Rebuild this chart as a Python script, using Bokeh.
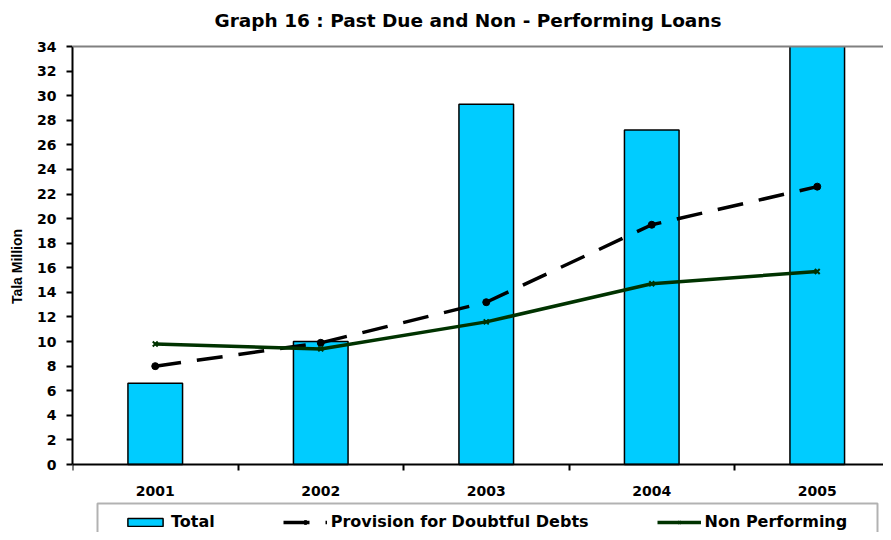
from bokeh.plotting import figure
from bokeh.models import (Range1d, FixedTicker, Span, Legend, LegendItem,
                          BoxAnnotation, ColumnDataSource, Label)
from bokeh.embed import file_html
from bokeh.resources import INLINE

# ---- data ----
years = ["2001", "2002", "2003", "2004", "2005"]
total = [6.6, 10.0, 29.3, 27.2, 35.5]
provision = [8.0, 9.9, 13.2, 19.5, 22.6]
non_performing = [9.8, 9.4, 11.6, 14.7, 15.7]
y_ticks = list(range(0, 36, 2))
title_text = "Graph 16 : Past Due and Non - Performing Loans"

# ---- layout constants (pixels) ----
W, H = 883, 532
LEFT = 72
FRAME_W = W - LEFT
PX_PER_CAT = 165.5
Y_MAX = 34
TOP_LINE_PX = 46                 # canvas px of y = 34
ZERO_LINE_PX = 464               # canvas px of y = 0
PX_PER_UNIT = (ZERO_LINE_PX - TOP_LINE_PX) / Y_MAX
y_end = Y_MAX + TOP_LINE_PX / PX_PER_UNIT
y_start = -(H - ZERO_LINE_PX) / PX_PER_UNIT
x_end = FRAME_W / PX_PER_CAT


def px_to_y(py):
    return (ZERO_LINE_PX - py) / PX_PER_UNIT


def px_to_x(px):
    return (px - LEFT) / PX_PER_CAT


FONT = "DejaVu Sans"

xs = [i + 0.5 for i in range(len(years))]
src = ColumnDataSource(dict(x=xs, year=years, total=total,
                            provision=provision, non_performing=non_performing))

p = figure(width=W, height=H, output_backend="svg", toolbar_location=None,
           x_range=Range1d(0, x_end), y_range=Range1d(y_start, y_end),
           min_border_left=LEFT, min_border_right=0, min_border_top=0,
           min_border_bottom=0, background_fill_color="white",
           border_fill_color="white", outline_line_color=None)

p.xgrid.visible = False
p.ygrid.visible = False

# bars
bars = p.vbar(x="x", top="total", width=0.33, bottom=0, source=src,
              fill_color="#00CCFF", line_color="black", line_width=1.5)

# provision line
prov_line = p.line(x="x", y="provision", source=src, line_color="black",
                   line_width=3.5, line_dash="26 16")
prov_pts = p.scatter(x="x", y="provision", source=src, marker="circle",
                     size=7, fill_color="black", line_color="black")

# non performing line
np_line = p.line(x="x", y="non_performing", source=src, line_color="#003300",
                 line_width=3.5)
np_pts = p.scatter(x="x", y="non_performing", source=src, marker="x",
                   size=7, line_color="#003300", line_width=2)

# plot area ends at the top of the value axis: mask what lies above it
p.add_layout(BoxAnnotation(bottom=Y_MAX, fill_color="white", fill_alpha=1,
                           line_color=None))
p.add_layout(Span(location=Y_MAX, dimension="width", line_color="#808080",
                  line_width=2))

# title
p.add_layout(Label(x=px_to_x(467.5), y=px_to_y(20), text=title_text,
                   text_font=FONT, text_font_style="bold",
                   text_font_size="18.5px", text_color="black",
                   text_align="center", text_baseline="middle"))

# y axis
ya = p.yaxis[0]
ya.ticker = FixedTicker(ticks=y_ticks)
ya.bounds = (0, Y_MAX)
ya.axis_label = "Tala Million"
ya.axis_label_text_font = "Liberation Sans"
ya.axis_label_text_font_style = "bold"
ya.axis_label_text_font_size = "14px"
ya.axis_label_text_color = "black"
ya.axis_label_standoff = 9
ya.major_label_text_font = FONT
ya.major_label_text_font_style = "bold"
ya.major_label_text_font_size = "14px"
ya.major_label_text_color = "black"
ya.major_label_standoff = 10
ya.axis_line_width = 2
ya.axis_line_color = "black"
ya.major_tick_line_width = 2
ya.major_tick_line_color = "black"
ya.major_tick_out = 6
ya.major_tick_in = 0
ya.minor_tick_line_color = None

# x axis at y = 0
xa = p.xaxis[0]
xa.fixed_location = 0
xa.bounds = (0, x_end)
xa.ticker = FixedTicker(ticks=xs, minor_ticks=list(range(len(years) + 1)))
xa.major_label_overrides = {x: y for x, y in zip(xs, years)}
xa.major_label_text_font = FONT
xa.major_label_text_font_style = "bold"
xa.major_label_text_font_size = "14px"
xa.major_label_text_color = "black"
xa.major_label_standoff = 15
xa.major_tick_line_color = None
xa.major_tick_out = 0
xa.major_tick_in = 0
xa.minor_tick_line_color = "black"
xa.minor_tick_line_width = 2
xa.minor_tick_out = 6
xa.minor_tick_in = 0
xa.axis_line_width = 2
xa.axis_line_color = "black"

# legend box (its bottom edge lies below the page, as in the original)
p.add_layout(BoxAnnotation(left=px_to_x(97), right=px_to_x(877),
                           top=px_to_y(503), bottom=y_start - 2,
                           fill_color=None, line_color="black", line_width=2))

legend = Legend(items=[
    LegendItem(label="Total", renderers=[bars]),
    LegendItem(label="Provision for Doubtful Debts", renderers=[prov_line, prov_pts]),
    LegendItem(label="Non Performing", renderers=[np_line, np_pts]),
], orientation="horizontal", location=(51, 1), padding=8, spacing=68,
   glyph_width=44, glyph_height=10, label_standoff=4,
   label_text_font=FONT, label_text_font_style="bold",
   label_text_font_size="16px", label_text_color="black",
   border_line_color=None, background_fill_alpha=0)
p.add_layout(legend, "center")

open("out.html", "w").write(file_html(p, INLINE))
